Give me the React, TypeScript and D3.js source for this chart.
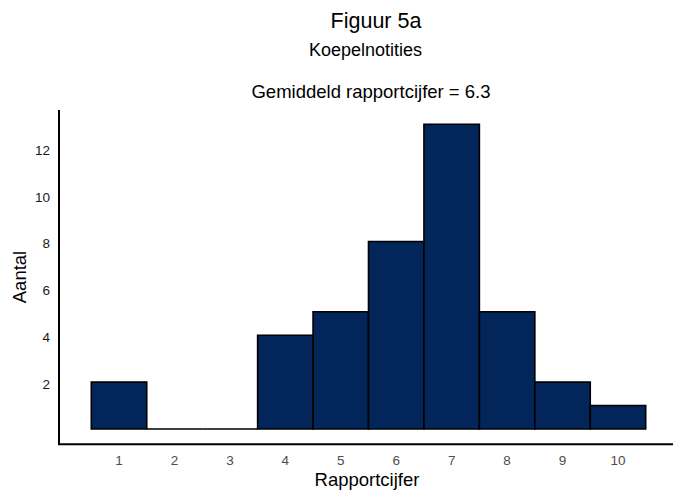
import * as d3 from "d3";
import { useEffect, useRef } from "react";

// rapportcijfers en aantallen
const cijfers = [1, 2, 3, 4, 5, 6, 7, 8, 9, 10];
const aantallen = [2, 0, 0, 4, 5, 8, 13, 5, 2, 1];
const yTicks = [2, 4, 6, 8, 10, 12];

const title = "Figuur 5a";
const subtitle = "Koepelnotities";
const caption = "Gemiddeld rapportcijfer = 6.3";

function App() {
    const ref = useRef<SVGSVGElement>(null);

    useEffect(() => {
        const width = 676,
            height = 491;
        const font = "'Liberation Sans', Arial, sans-serif";

        const svg = d3.select(ref.current);
        svg.selectAll("*").remove();
        svg.attr("width", width).attr("height", height);

        // scales: bars touch each other, one unit wide
        const x = d3.scaleLinear().domain([0.5, 10.5]).range([91.3, 645.7]);
        const y = d3.scaleLinear().domain([0, 13]).range([429, 124.3]);

        // titles
        svg.append("text")
            .attr("x", 376).attr("y", 28)
            .attr("text-anchor", "middle")
            .style("font-family", font).style("font-size", "21.5px")
            .text(title);
        svg.append("text")
            .attr("x", 365.5).attr("y", 56)
            .attr("text-anchor", "middle")
            .style("font-family", font).style("font-size", "18px")
            .text(subtitle);
        svg.append("text")
            .attr("x", 371).attr("y", 98)
            .attr("text-anchor", "middle")
            .style("font-family", font).style("font-size", "18.5px")
            .text(caption);

        // bars as closed paths, so empty bins still show as a line on the base
        svg.append("g")
            .selectAll("path")
            .data(cijfers)
            .join("path")
            .attr("d", (d, i) => {
                const x0 = x(d - 0.5), x1 = x(d + 0.5);
                const y0 = y(0), y1 = y(aantallen[i]);
                return `M${x0},${y0}V${y1}H${x1}V${y0}Z`;
            })
            .attr("fill", "#02255a")
            .attr("stroke", "black")
            .attr("stroke-width", 1.6);

        // axis lines
        svg.append("line")
            .attr("x1", 59).attr("x2", 59)
            .attr("y1", 110).attr("y2", 444.5)
            .attr("stroke", "black").attr("stroke-width", 2);
        svg.append("line")
            .attr("x1", 58).attr("x2", 673)
            .attr("y1", 444.3).attr("y2", 444.3)
            .attr("stroke", "black").attr("stroke-width", 2);

        // tick labels
        svg.append("g")
            .selectAll("text")
            .data(cijfers)
            .join("text")
            .attr("x", (d) => x(d))
            .attr("y", 464.5)
            .attr("text-anchor", "middle")
            .attr("fill", "#4d4d4d")
            .style("font-family", font).style("font-size", "13.5px")
            .text((d) => d);
        svg.append("g")
            .selectAll("text")
            .data(yTicks)
            .join("text")
            .attr("x", 50)
            .attr("y", (d) => y(d) + 7)
            .attr("text-anchor", "end")
            .attr("fill", "#1a1a1a")
            .style("font-family", font).style("font-size", "13.5px")
            .text((d) => d);

        // axis titles
        svg.append("text")
            .attr("x", 367).attr("y", 486)
            .attr("text-anchor", "middle")
            .style("font-family", font).style("font-size", "18.5px")
            .text("Rapportcijfer");
        svg.append("text")
            .attr("transform", "translate(26, 277) rotate(-90)")
            .attr("text-anchor", "middle")
            .style("font-family", font).style("font-size", "18.5px")
            .text("Aantal");
    }, []);

    return (
        <svg ref={ref} style={{ position: "absolute", left: 0, top: 0 }}></svg>
    );
}

export default App;
